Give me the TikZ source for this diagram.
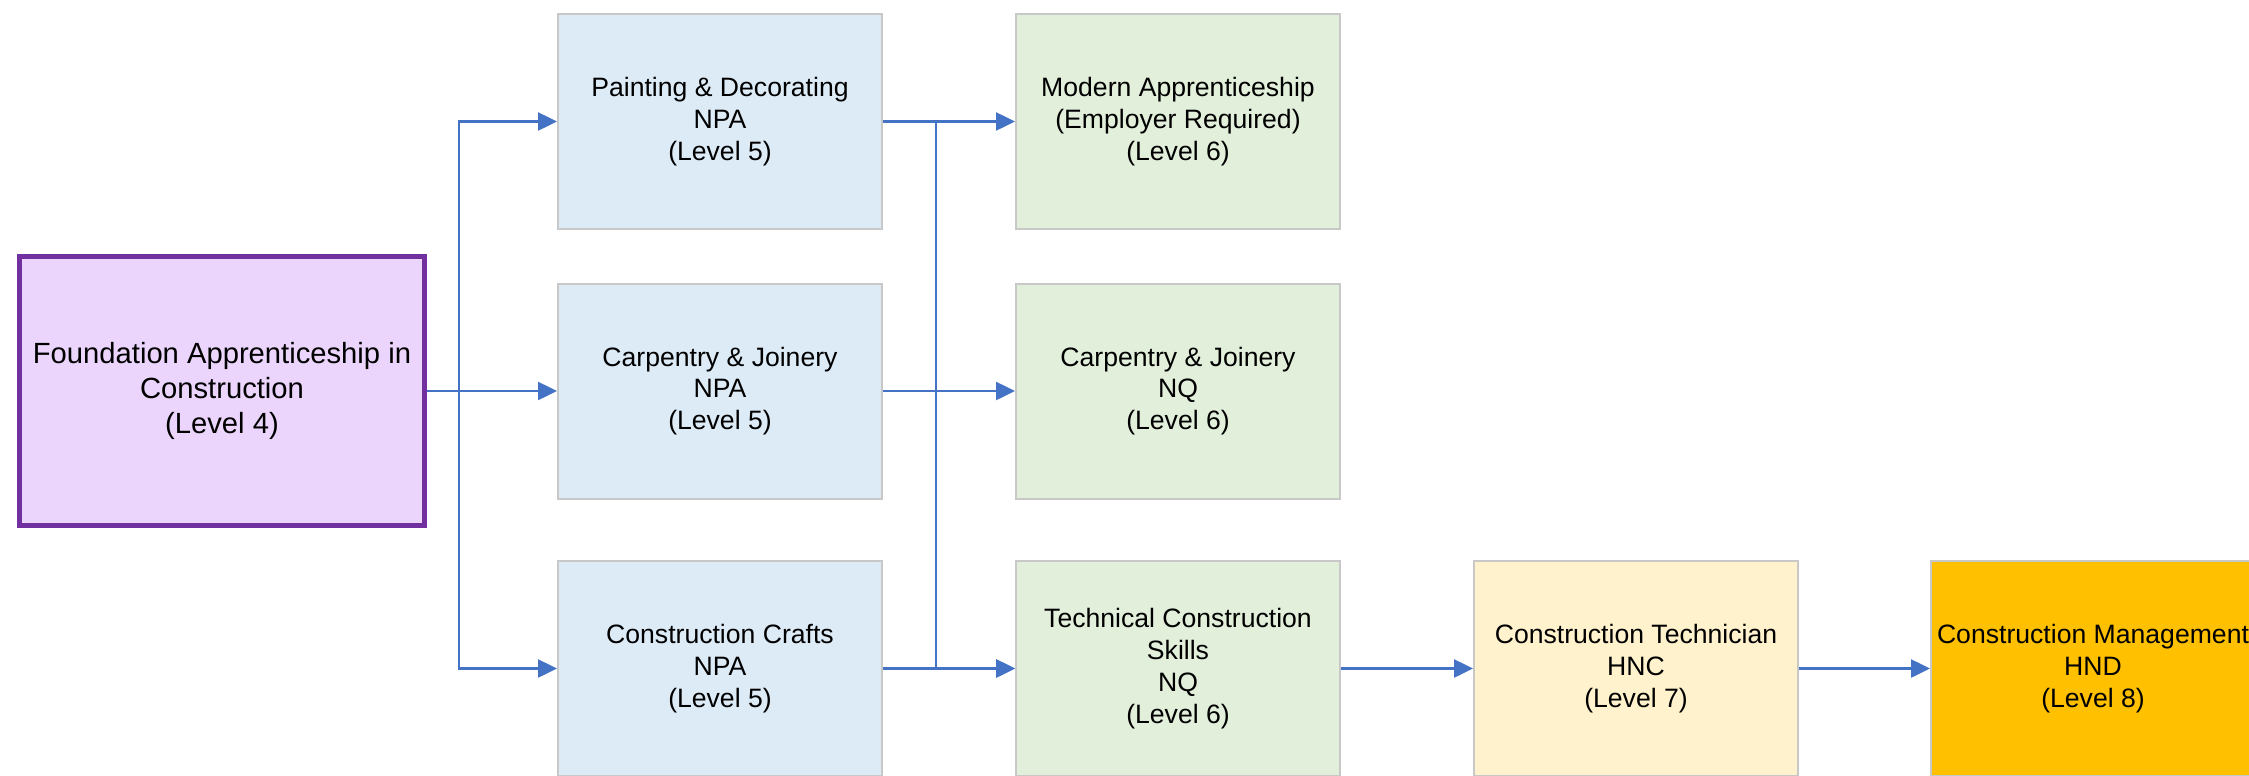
\documentclass[tikz,border=0pt]{standalone}
\usepackage{fontspec}
\setmainfont{Liberation Sans}
\usetikzlibrary{arrows.meta}
\definecolor{edgeblue}{HTML}{4472C4}
\definecolor{boxgrey}{HTML}{C8C8C8}
\definecolor{bluefill}{HTML}{DDEBF7}
\definecolor{greenfill}{HTML}{E2EFDA}
\definecolor{yellowfill}{HTML}{FFF2CC}
\definecolor{orangefill}{HTML}{FFC000}
\definecolor{purplefill}{HTML}{EBD5FC}
\definecolor{purpleline}{HTML}{7030A0}
\tikzset{
  stagebox/.style={draw=boxgrey, line width=1pt, inner sep=0pt, align=center,
    minimum width=162pt, minimum height=107.5pt,
    font=\fontsize{13.3}{15.9}\selectfont},
  npabox/.style={stagebox, fill=bluefill},
  nqbox/.style={stagebox, fill=greenfill},
  hncbox/.style={stagebox, fill=yellowfill},
  hndbox/.style={stagebox, fill=orangefill},
  startbox/.style={draw=purpleline, line width=2.6pt, fill=purplefill, inner sep=0pt,
    align=center, minimum width=202.5pt, minimum height=134.5pt,
    font=\fontsize{14.6}{17.5}\selectfont},
  conn/.style={draw=edgeblue, line width=1.25pt, -{Triangle[length=9.5pt,width=9pt]}},
}
\begin{document}
\begin{tikzpicture}[x=0.5pt,y=-0.5pt]
\useasboundingbox (0,0) rectangle (2249,776);
\node[startbox] (F) at (222,391) {Foundation Apprenticeship in\\Construction\\(Level 4)};
\node[npabox] (P) at (720,121.5) {Painting \& Decorating\\NPA\\(Level 5)};
\node[npabox] (C) at (720,391) {Carpentry \& Joinery\\NPA\\(Level 5)};
\node[npabox] (CC) at (720,668.5) {Construction Crafts\\NPA\\(Level 5)};
\node[nqbox] (M) at (1178,121.5) {Modern Apprenticeship\\(Employer Required)\\(Level 6)};
\node[nqbox] (CNQ) at (1178,391) {Carpentry \& Joinery\\NQ\\(Level 6)};
\node[nqbox] (T) at (1178,668.5) {Technical Construction\\Skills\\NQ\\(Level 6)};
\node[hncbox] (H) at (1636,668.5) {Construction Technician\\HNC\\(Level 7)};
\node[hndbox] (D) at (2093,668.5) {Construction Management\\HND\\(Level 8)};
\coordinate (j1) at (459,391);
\coordinate (j2) at (936,121.5);
\draw[conn] (F.east) -- (j1) |- (P.west);
\draw[conn] (F.east) -- (C.west);
\draw[conn] (F.east) -- (j1) |- (CC.west);
\draw[conn] (P.east) -- (M.west);
\draw[conn] (C.east) -- (CNQ.west);
\draw[conn] (CC.east) -- (T.west);
\draw[conn] (P.east) -- (j2) |- (T.west);
\draw[conn] (T.east) -- (H.west);
\draw[conn] (H.east) -- (D.west);
\end{tikzpicture}
\end{document}
